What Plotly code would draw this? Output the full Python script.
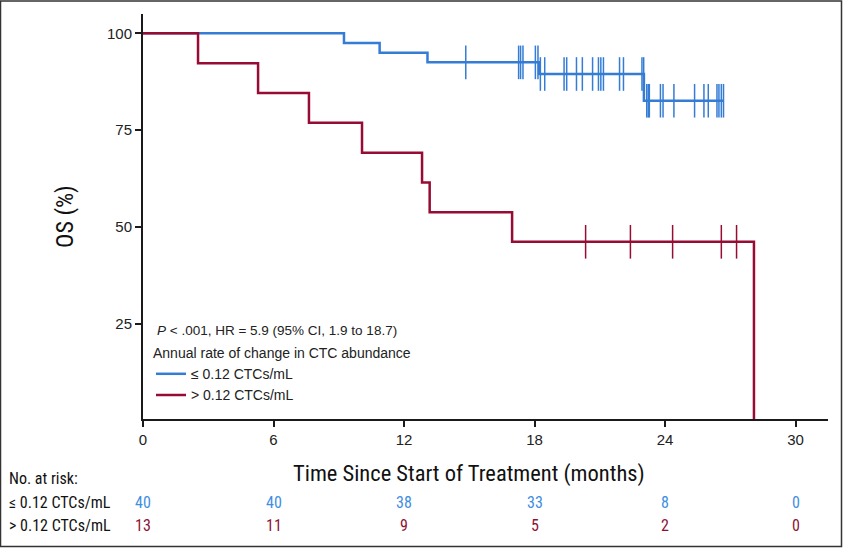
import plotly.graph_objects as go

# ---------------- data ----------------
blue_name = "≤ 0.12 CTCs/mL"
red_name = "> 0.12 CTCs/mL"

# Kaplan-Meier step points (time in months, OS %)
blue_times = [0, 9.24, 10.88, 13.08, 18.21, 23.03, 26.69]
blue_surv = [100, 97.5, 95.0, 92.5, 89.5, 82.6, 82.6]
blue_censor = [14.84, 17.27, 17.36, 17.47, 18.04, 18.16, 18.27, 18.47, 19.36, 19.48,
               19.93, 20.2, 20.67, 20.94, 21.05, 21.17, 21.91, 22.09, 22.94, 23.02,
               23.16, 23.23, 23.28, 23.79, 23.91, 24.41, 25.36, 25.79, 25.99, 26.39,
               26.48, 26.59, 26.69]

red_times = [0, 2.53, 5.29, 7.63, 10.07, 12.83, 13.18, 16.97, 28.09]
red_surv = [100, 92.3, 84.6, 76.9, 69.2, 61.5, 53.8, 46.2, 0]
red_censor = [20.35, 22.41, 24.35, 26.59, 27.29]

risk_times = [0, 6, 12, 18, 24, 30]
risk_blue = [40, 40, 38, 33, 8, 0]
risk_red = [13, 11, 9, 5, 2, 0]

x_ticks = [0, 6, 12, 18, 24, 30]
y_ticks = [25, 50, 75, 100]

# ---------------- style ----------------
BLUE = "rgb(52,124,212)"
RED = "rgb(150,12,52)"
BLUE_TXT = "rgb(62,142,226)"
RED_TXT = "rgb(140,18,52)"
AX = "#1a1a1a"
SANS = "Liberation Sans, Arial, sans-serif"
COND = "Liberation Sans Narrow, Arial Narrow, Roboto Condensed, Liberation Sans, sans-serif"

W, H = 843, 548
L, R, T, B = 143, 15, 14, 129
PW, PH = W - L - R, H - T - B


def px_x(p):
    return (p - L) / PW


def px_y(p):
    return (H - B - p) / PH


def step_value(times, surv, t):
    v = surv[0]
    for ti, si in zip(times, surv):
        if ti <= t:
            v = si
    return v


fig = go.Figure()

fig.add_trace(go.Scatter(x=blue_times, y=blue_surv, mode="lines", line_shape="hv",
                         line=dict(color=BLUE, width=2.5), name=blue_name))
fig.add_trace(go.Scatter(x=red_times, y=red_surv, mode="lines", line_shape="hv",
                         line=dict(color=RED, width=2.5), name=red_name))

fig.add_trace(go.Scatter(x=blue_censor, y=[step_value(blue_times, blue_surv, t) for t in blue_censor],
                         mode="markers", showlegend=False, hoverinfo="skip",
                         marker=dict(symbol="line-ns", size=24, line=dict(color=BLUE, width=1.5))))
fig.add_trace(go.Scatter(x=red_censor, y=[step_value(red_times, red_surv, t) for t in red_censor],
                         mode="markers", showlegend=False, hoverinfo="skip",
                         marker=dict(symbol="line-ns", size=24, line=dict(color=RED, width=1.5))))

annotations = []
# P value text
annotations.append(dict(text="<i>P</i> &lt; .001, HR = 5.9 (95% CI, 1.9 to 18.7)",
                        xref="paper", yref="paper", x=px_x(155), y=px_y(330.7),
                        xanchor="left", yanchor="middle", showarrow=False,
                        font=dict(family=SANS, size=13.5, color="#222")))

# axis titles
annotations.append(dict(text="Time Since Start of Treatment (months)", xref="paper", yref="paper",
                        x=px_x(469), y=px_y(473), xanchor="center", yanchor="middle",
                        showarrow=False, font=dict(family=COND, size=22.5, color="#111")))
annotations.append(dict(text="OS (%)", xref="paper", yref="paper", textangle=-90,
                        x=px_x(65), y=px_y(217), xanchor="center", yanchor="middle",
                        showarrow=False, font=dict(family=COND, size=24, color="#111")))

# risk table
row_y = [px_y(478), px_y(502), px_y(525)]
for txt, yy in zip(["No. at risk:", blue_name, red_name], row_y):
    annotations.append(dict(text=txt, xref="paper", yref="paper", x=px_x(7), y=yy,
                            xanchor="left", yanchor="middle", showarrow=False,
                            font=dict(family=COND, size=16, color="#111")))
for t, b, r in zip(risk_times, risk_blue, risk_red):
    annotations.append(dict(text=str(b), xref="x", yref="paper", x=t, y=row_y[1],
                            xanchor="center", yanchor="middle", showarrow=False,
                            font=dict(family=COND, size=16, color=BLUE_TXT)))
    annotations.append(dict(text=str(r), xref="x", yref="paper", x=t, y=row_y[2],
                            xanchor="center", yanchor="middle", showarrow=False,
                            font=dict(family=COND, size=16, color=RED_TXT)))

# outer frame
shapes = [dict(type="rect", xref="paper", yref="paper",
               x0=px_x(0.5), x1=px_x(841.5), y0=px_y(546.5), y1=px_y(1),
               line=dict(color="#333", width=1.5), fillcolor="rgba(0,0,0,0)", layer="above")]

fig.update_layout(
    width=W, height=H,
    margin=dict(l=L, r=R, t=T, b=B, pad=0),
    paper_bgcolor="white", plot_bgcolor="white",
    font=dict(family=SANS, size=15, color="#222"),
    showlegend=True,
    legend=dict(x=px_x(151), y=px_y(340), xanchor="left", yanchor="top",
                bgcolor="rgba(0,0,0,0)", borderwidth=0,
                font=dict(family=SANS, size=14, color="#222"),
                title=dict(text="Annual rate of change in CTC abundance", side="top",
                           font=dict(family=SANS, size=14, color="#222")),
                tracegroupgap=0),
    xaxis=dict(range=[0, PW / 21.75], tickvals=x_ticks, ticks="outside", ticklen=6, tickwidth=1.5,
               tickcolor=AX, showline=True, linecolor=AX, linewidth=2, showgrid=False,
               zeroline=False, tickfont=dict(family=SANS, size=15, color="#222")),
    yaxis=dict(range=[0.48, 104.98], tickvals=y_ticks, ticks="outside", ticklen=6, tickwidth=1.5,
               tickcolor=AX, showline=True, linecolor=AX, linewidth=2, showgrid=False,
               zeroline=False, tickfont=dict(family=SANS, size=15, color="#222")),
    annotations=annotations,
    shapes=shapes,
)

fig.write_html("out.html", config={"displayModeBar": False},
               post_script="document.body.style.margin='0px';")
